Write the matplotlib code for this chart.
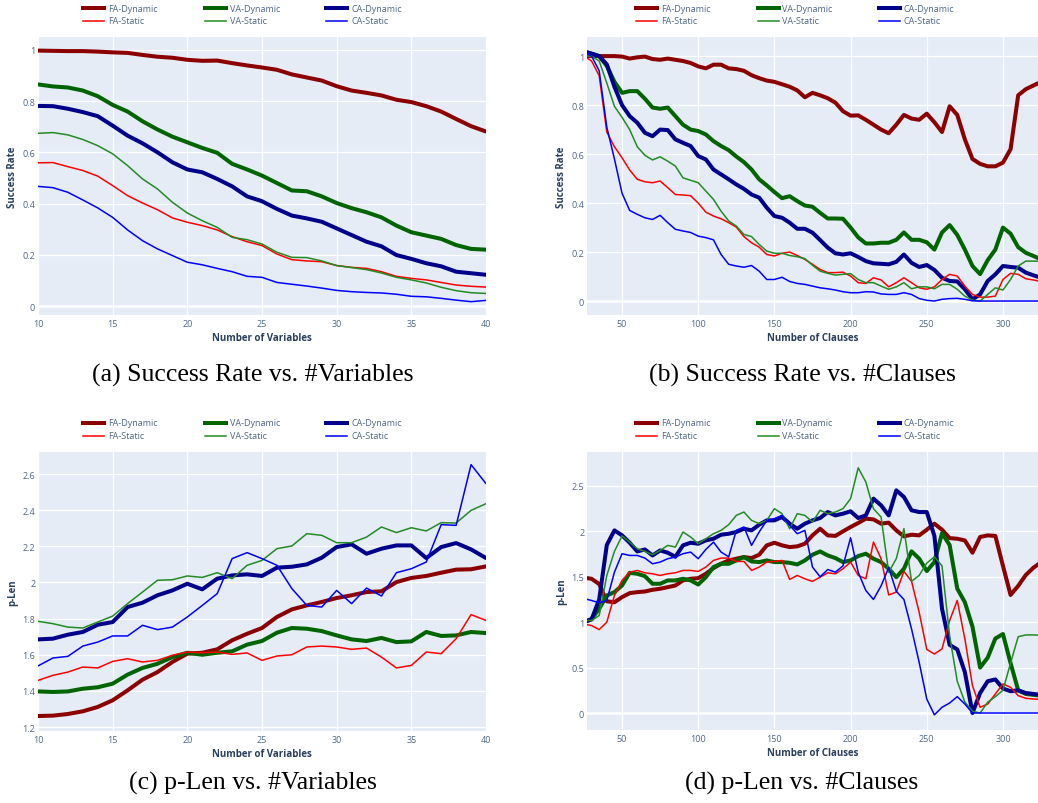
import matplotlib
matplotlib.use('Agg')
import matplotlib.pyplot as plt
from matplotlib.lines import Line2D
from matplotlib.ticker import FuncFormatter

W, H = 1038, 804

names = ['FA-Dynamic', 'VA-Dynamic', 'CA-Dynamic', 'FA-Static', 'VA-Static', 'CA-Static']
colors = ['#8b0000', '#006400', '#00008b', '#ff0000', '#228b22', '#0000ff']
widths = [2.9, 2.9, 2.9, 1.1, 1.1, 1.1]

variables = list(range(10, 41))
clauses = list(range(25, 326, 5))

# (a) success rate vs #variables
sr_var_fa_dyn = [0.997, 0.996, 0.995, 0.995, 0.993, 0.99, 0.988, 0.98, 0.973, 0.969,
                 0.961, 0.957, 0.958, 0.948, 0.939, 0.931, 0.922, 0.904, 0.892, 0.88,
                 0.858, 0.841, 0.832, 0.822, 0.805, 0.796, 0.78, 0.759, 0.73, 0.702, 0.681]
sr_var_va_dyn = [0.865, 0.857, 0.853, 0.841, 0.819, 0.785, 0.759, 0.721, 0.689, 0.661,
                 0.639, 0.617, 0.598, 0.555, 0.533, 0.509, 0.48, 0.451, 0.448, 0.428,
                 0.402, 0.382, 0.366, 0.346, 0.314, 0.288, 0.275, 0.262, 0.238, 0.223, 0.22]
sr_var_ca_dyn = [0.781, 0.78, 0.77, 0.757, 0.741, 0.704, 0.665, 0.635, 0.6, 0.561,
                 0.533, 0.522, 0.496, 0.467, 0.428, 0.409, 0.379, 0.353, 0.342, 0.329,
                 0.303, 0.277, 0.251, 0.233, 0.199, 0.184, 0.167, 0.155, 0.134, 0.128, 0.122]
sr_var_fa_sta = [0.559, 0.56, 0.544, 0.529, 0.507, 0.47, 0.431, 0.402, 0.376, 0.344,
                 0.327, 0.314, 0.297, 0.271, 0.251, 0.236, 0.203, 0.181, 0.176, 0.173,
                 0.158, 0.151, 0.147, 0.134, 0.116, 0.108, 0.102, 0.092, 0.082, 0.077, 0.074]
sr_var_va_sta = [0.674, 0.677, 0.668, 0.65, 0.626, 0.594, 0.548, 0.496, 0.457, 0.405,
                 0.363, 0.333, 0.307, 0.268, 0.259, 0.242, 0.21, 0.19, 0.189, 0.176,
                 0.158, 0.15, 0.142, 0.129, 0.112, 0.102, 0.09, 0.073, 0.06, 0.052, 0.049]
sr_var_ca_sta = [0.467, 0.462, 0.444, 0.414, 0.383, 0.346, 0.297, 0.255, 0.223, 0.197,
                 0.171, 0.161, 0.147, 0.134, 0.116, 0.112, 0.092, 0.085, 0.078, 0.07,
                 0.061, 0.056, 0.053, 0.051, 0.046, 0.038, 0.036, 0.03, 0.023, 0.017, 0.022]

# (b) success rate vs #clauses
sr_cl_fa_dyn = [1.0, 1.0, 1.0, 1.0, 1.0,
                0.998, 0.99, 0.995, 0.998, 0.988, 0.985, 0.99, 0.985, 0.98, 0.972,
                0.958, 0.95, 0.965, 0.965, 0.95, 0.947, 0.94, 0.922, 0.91, 0.90,
                0.895, 0.885, 0.875, 0.86, 0.832, 0.85, 0.84, 0.828, 0.81, 0.775,
                0.757, 0.758, 0.74, 0.72, 0.70, 0.685, 0.72, 0.76, 0.745, 0.74,
                0.765, 0.73, 0.69, 0.795, 0.76, 0.66, 0.58, 0.56, 0.55, 0.55,
                0.565, 0.62, 0.84, 0.865, 0.88, 0.895]
sr_cl_va_dyn = [1.01, 1.01, 1.0, 0.96, 0.895,
                0.85, 0.857, 0.857, 0.826, 0.79, 0.785, 0.79, 0.755, 0.72, 0.70,
                0.694, 0.68, 0.653, 0.633, 0.616, 0.59, 0.567, 0.537, 0.497, 0.472,
                0.445, 0.42, 0.428, 0.408, 0.39, 0.385, 0.36, 0.337, 0.337, 0.336,
                0.30, 0.26, 0.235, 0.235, 0.238, 0.238, 0.25, 0.28, 0.25, 0.25,
                0.24, 0.21, 0.28, 0.31, 0.27, 0.21, 0.143, 0.11, 0.167, 0.21,
                0.30, 0.275, 0.22, 0.197, 0.184, 0.17]
sr_cl_ca_dyn = [1.02, 1.01, 1.0, 0.966, 0.875,
                0.80, 0.755, 0.728, 0.687, 0.673, 0.70, 0.698, 0.66, 0.646, 0.633,
                0.592, 0.578, 0.537, 0.517, 0.497, 0.476, 0.458, 0.435, 0.422, 0.381,
                0.347, 0.34, 0.32, 0.295, 0.295, 0.279, 0.249, 0.218, 0.195, 0.19,
                0.195, 0.18, 0.163, 0.154, 0.152, 0.15, 0.16, 0.19, 0.156, 0.139,
                0.147, 0.127, 0.095, 0.082, 0.08, 0.048, 0.007, 0.027, 0.082, 0.109,
                0.143, 0.139, 0.136, 0.116, 0.105, 0.095]
sr_cl_fa_sta = [1.0, 0.98, 0.92, 0.69, 0.63,
                0.585, 0.535, 0.497, 0.487, 0.483, 0.49, 0.463, 0.435, 0.433, 0.43,
                0.40, 0.363, 0.347, 0.336, 0.32, 0.302, 0.263, 0.238, 0.22, 0.19,
                0.184, 0.195, 0.20, 0.186, 0.17, 0.15, 0.129, 0.116, 0.116, 0.118,
                0.102, 0.075, 0.072, 0.095, 0.086, 0.058, 0.075, 0.095, 0.075, 0.054,
                0.048, 0.058, 0.088, 0.109, 0.102, 0.061, 0.027, 0.016, 0.016, 0.02,
                0.088, 0.113, 0.109, 0.091, 0.086, 0.08]
sr_cl_va_sta = [1.0, 1.0, 0.98, 0.89, 0.795,
                0.75, 0.70, 0.63, 0.595, 0.576, 0.589, 0.571, 0.551, 0.503, 0.493,
                0.483, 0.449, 0.415, 0.367, 0.327, 0.306, 0.272, 0.263, 0.231, 0.204,
                0.195, 0.195, 0.186, 0.181, 0.173, 0.146, 0.122, 0.113, 0.106, 0.109,
                0.112, 0.088, 0.075, 0.075, 0.061, 0.048, 0.058, 0.075, 0.05, 0.058,
                0.058, 0.05, 0.068, 0.068, 0.048, 0.02, 0.004, 0.0, 0.027, 0.054,
                0.045, 0.088, 0.143, 0.163, 0.163, 0.163]
sr_cl_ca_sta = [1.02, 1.0, 0.94, 0.71, 0.58,
                0.44, 0.37, 0.354, 0.34, 0.333, 0.35, 0.32, 0.293, 0.286, 0.28,
                0.265, 0.259, 0.25, 0.19, 0.15, 0.143, 0.138, 0.145, 0.122, 0.088,
                0.088, 0.097, 0.08, 0.072, 0.068, 0.061, 0.054, 0.05, 0.045, 0.038,
                0.034, 0.034, 0.038, 0.037, 0.029, 0.027, 0.027, 0.034, 0.027, 0.01,
                0.003, 0.0, 0.007, 0.01, 0.011, 0.007, 0.001, 0, 0, 0,
                0, 0, 0, 0, 0, 0]

# (c) p-Len vs #variables
pl_var_fa_dyn = [1.261, 1.263, 1.272, 1.287, 1.311, 1.348, 1.403, 1.462, 1.504, 1.56,
                 1.606, 1.611, 1.63, 1.68, 1.716, 1.748, 1.809, 1.851, 1.873, 1.892,
                 1.914, 1.929, 1.947, 1.951, 2.002, 2.025, 2.036, 2.054, 2.071, 2.073, 2.089]
pl_var_va_dyn = [1.397, 1.394, 1.397, 1.412, 1.42, 1.44, 1.49, 1.527, 1.55, 1.587,
                 1.611, 1.6, 1.611, 1.619, 1.656, 1.676, 1.722, 1.748, 1.744, 1.731,
                 1.707, 1.685, 1.676, 1.693, 1.67, 1.674, 1.726, 1.704, 1.707, 1.726, 1.72]
pl_var_ca_dyn = [1.685, 1.689, 1.711, 1.726, 1.766, 1.781, 1.864, 1.888, 1.929, 1.956,
                 1.993, 1.962, 2.021, 2.039, 2.045, 2.036, 2.082, 2.087, 2.1, 2.137,
                 2.196, 2.211, 2.159, 2.187, 2.205, 2.205, 2.135, 2.196, 2.218, 2.183, 2.135]
pl_var_fa_sta = [1.458, 1.486, 1.504, 1.532, 1.527, 1.563, 1.578, 1.56, 1.569, 1.597,
                 1.615, 1.611, 1.615, 1.602, 1.61, 1.569, 1.593, 1.6, 1.643, 1.648,
                 1.643, 1.63, 1.637, 1.587, 1.527, 1.541, 1.615, 1.606, 1.689, 1.822, 1.79]
pl_var_va_sta = [1.785, 1.772, 1.753, 1.748, 1.781, 1.814, 1.883, 1.947, 2.012, 2.015,
                 2.036, 2.028, 2.054, 2.021, 2.095, 2.122, 2.187, 2.202, 2.27, 2.261,
                 2.22, 2.22, 2.251, 2.307, 2.276, 2.303, 2.285, 2.331, 2.329, 2.399, 2.436]
pl_var_ca_sta = [1.538, 1.582, 1.591, 1.648, 1.67, 1.704, 1.704, 1.763, 1.739, 1.753,
                 1.809, 1.873, 1.938, 2.132, 2.165, 2.132, 2.095, 1.966, 1.873, 1.864,
                 1.956, 1.883, 1.969, 1.925, 2.054, 2.076, 2.113, 2.32, 2.316, 2.652, 2.547]

# (d) p-Len vs #clauses
pl_cl_fa_dyn = [1.49, 1.478, 1.42, 1.23, 1.22,
                1.276, 1.32, 1.331, 1.338, 1.357, 1.368, 1.386, 1.404, 1.46, 1.478,
                1.485, 1.533, 1.596, 1.643, 1.68, 1.699, 1.717, 1.706, 1.743, 1.846,
                1.875, 1.846, 1.827, 1.835, 1.864, 1.956, 2.029, 1.956, 1.95, 2.0,
                2.048, 2.092, 2.14, 2.132, 2.085, 2.096, 2.011, 1.945, 1.963, 1.956,
                2.018, 2.085, 2.018, 1.926, 1.919, 1.90, 1.765, 1.938, 1.956, 1.95,
                1.62, 1.30, 1.40, 1.52, 1.60, 1.66]
pl_cl_va_dyn = [1.0, 1.037, 1.147, 1.294, 1.331,
                1.404, 1.544, 1.533, 1.507, 1.423, 1.423, 1.46, 1.46, 1.478, 1.46,
                1.415, 1.496, 1.607, 1.643, 1.643, 1.68, 1.717, 1.669, 1.662, 1.68,
                1.662, 1.662, 1.654, 1.636, 1.68, 1.743, 1.779, 1.735, 1.706, 1.662,
                1.68, 1.728, 1.754, 1.699, 1.662, 1.588, 1.496, 1.588, 1.78, 1.70,
                1.563, 1.662, 1.98, 1.85, 1.37, 1.22, 0.95, 0.50, 0.61, 0.82,
                0.87, 0.55, 0.25, 0.21, 0.20, 0.19]
pl_cl_ca_dyn = [1.0, 1.03, 1.25, 1.85, 2.011,
                1.956, 1.875, 1.779, 1.801, 1.735, 1.79, 1.765, 1.72, 1.846, 1.875,
                1.864, 1.901, 1.919, 1.963, 1.974, 1.993, 2.029, 2.011, 2.074, 2.121,
                2.121, 2.158, 2.085, 2.029, 2.085, 2.121, 2.147, 2.213, 2.176, 2.195,
                2.221, 2.147, 2.176, 2.36, 2.287, 2.176, 2.452, 2.379, 2.232, 2.213,
                2.213, 1.95, 1.15, 0.75, 0.70, 0.45, 0.0, 0.22, 0.35, 0.37,
                0.27, 0.24, 0.25, 0.22, 0.21, 0.20]
pl_cl_fa_sta = [0.98, 0.963, 0.919, 1.0, 1.294,
                1.46, 1.551, 1.57, 1.544, 1.533, 1.515, 1.533, 1.544, 1.57, 1.57,
                1.559, 1.607, 1.68, 1.706, 1.706, 1.669, 1.669, 1.57, 1.607, 1.662,
                1.669, 1.68, 1.471, 1.515, 1.478, 1.449, 1.496, 1.544, 1.533, 1.588,
                1.662, 1.515, 1.478, 1.882, 1.70, 1.30, 1.331, 1.56, 1.45, 1.11,
                0.70, 0.65, 0.706, 1.018, 1.239, 0.816, 0.301, 0.063, 0.099, 0.21,
                0.32, 0.283, 0.191, 0.162, 0.154, 0.15]
pl_cl_va_sta = [1.02, 1.018, 1.074, 1.515, 1.78,
                1.95, 1.882, 1.809, 1.779, 1.743, 1.79, 1.846, 1.827, 1.993, 1.938,
                1.864, 1.919, 1.974, 2.011, 2.074, 2.176, 2.213, 2.121, 2.085, 2.121,
                2.25, 2.195, 2.029, 2.195, 2.176, 2.103, 2.232, 2.195, 2.213, 2.25,
                2.36, 2.70, 2.544, 2.25, 2.158, 1.55, 1.70, 2.03, 1.45, 1.515,
                1.65, 1.72, 1.62, 0.85, 0.35, 0.12, 0.02, 0.0, 0.12, 0.18,
                0.25, 0.55, 0.84, 0.86, 0.86, 0.855]
pl_cl_ca_sta = [1.26, 1.239, 1.213, 1.239, 1.551,
                1.754, 1.735, 1.735, 1.706, 1.643, 1.662, 1.699, 1.717, 1.754, 1.772,
                1.699, 1.801, 1.882, 1.772, 1.72, 2.011, 2.048, 1.846, 1.993, 2.121,
                2.14, 2.176, 2.066, 1.974, 2.011, 1.607, 1.50, 1.58, 1.551, 1.62,
                1.93, 1.55, 1.349, 1.25, 1.40, 1.60, 1.34, 1.25, 0.926, 0.559,
                0.154, -0.02, 0.063, 0.11, 0.18, 0.099, 0.0, 0, 0, 0,
                0, 0, 0, 0, 0, 0]

FONT = 'Open Sans'
TXT = '#2a3f5f'
TICK = '#506784'
BG = '#e5ecf6'

fig = plt.figure(figsize=(W / 100, H / 100), dpi=100)


def fx(x):
    return x / W


def fy(y):
    return 1 - y / H


def panel(box, x, ys, xlim, ylim, xticks, yticks, xlabel, ylabel, zero=False):
    l, t, r, b = box
    ax = fig.add_axes([fx(l), fy(b), fx(r - l), (b - t) / H])
    ax.set_facecolor(BG)
    for s in ax.spines.values():
        s.set_visible(False)
    ax.set_xlim(*xlim)
    ax.set_ylim(*ylim)
    ax.set_xticks(xticks)
    ax.set_yticks(yticks)
    ax.grid(True, color='white', linewidth=0.9)
    ax.set_axisbelow(True)
    if zero:
        ax.axhline(0, color='white', linewidth=1.8, zorder=1)
    fmt = FuncFormatter(lambda v, p: '{:g}'.format(round(v, 2)))
    ax.xaxis.set_major_formatter(fmt)
    ax.yaxis.set_major_formatter(fmt)
    ax.tick_params(length=0, labelsize=6.5, labelcolor=TICK, pad=3)
    ax.tick_params(axis='y', pad=2)
    for lab in ax.get_xticklabels() + ax.get_yticklabels():
        lab.set_fontfamily(FONT)
    for y, c, w in zip(ys, colors, widths):
        ax.plot(x, y, color=c, linewidth=w, solid_joinstyle='round',
                solid_capstyle='round', zorder=3)
    fig.text(fx((l + r) / 2), fy(b + 23), xlabel, ha='center', va='center',
             fontsize=7, fontweight='bold', color=TXT, family=FONT)
    fig.text(fx(l - 25), fy((t + b) / 2), ylabel, ha='center', va='center',
             rotation=90, fontsize=7, fontweight='bold', color=TXT, family=FONT)
    return ax


def legend(x0, y0):
    for i, (n, c, w) in enumerate(zip(names, colors, widths)):
        col, row = i % 3, i // 3
        lx = x0 + col * 121.5
        ly = y0 + row * 13
        fig.add_artist(Line2D([fx(lx), fx(lx + 21)], [fy(ly), fy(ly)],
                              color=c, linewidth=w, transform=fig.transFigure))
        fig.text(fx(lx + 25), fy(ly), n, ha='left', va='center', fontsize=6.5,
                 color=TICK, family=FONT)


def caption(cx, cy, s):
    fig.text(fx(cx), fy(cy), s, ha='center', va='center', fontsize=18.5,
             family='Liberation Serif', color='black')


panel((38, 38, 486, 316), variables,
      [sr_var_fa_dyn, sr_var_va_dyn, sr_var_ca_dyn, sr_var_fa_sta, sr_var_va_sta, sr_var_ca_sta],
      (10, 40), (-0.035, 1.05), range(10, 41, 5), [0, 0.2, 0.4, 0.6, 0.8, 1],
      'Number of Variables', 'Success Rate', zero=True)
panel((587, 38, 1038, 316), clauses,
      [sr_cl_fa_dyn, sr_cl_va_dyn, sr_cl_ca_dyn, sr_cl_fa_sta, sr_cl_va_sta, sr_cl_ca_sta],
      (27, 323), (-0.057, 1.078), range(50, 301, 50), [0, 0.2, 0.4, 0.6, 0.8, 1],
      'Number of Clauses', 'Success Rate', zero=True)
panel((38, 453, 486, 732), variables,
      [pl_var_fa_dyn, pl_var_va_dyn, pl_var_ca_dyn, pl_var_fa_sta, pl_var_va_sta, pl_var_ca_sta],
      (10, 40), (1.178, 2.722), range(10, 41, 5), [1.2, 1.4, 1.6, 1.8, 2, 2.2, 2.4, 2.6],
      'Number of Variables', 'p-Len')
panel((587, 453, 1038, 731), clauses,
      [pl_cl_fa_dyn, pl_cl_va_dyn, pl_cl_ca_dyn, pl_cl_fa_sta, pl_cl_va_sta, pl_cl_ca_sta],
      (27, 323), (-0.187, 2.874), range(50, 301, 50), [0, 0.5, 1, 1.5, 2, 2.5],
      'Number of Clauses', 'p-Len', zero=True)

legend(83, 9)
legend(636, 9)
legend(83, 424)
legend(636, 424)

caption(253, 375, '(a) Success Rate vs. #Variables')
caption(802, 375, '(b) Success Rate vs. #Clauses')
caption(253, 783, '(c) p-Len vs. #Variables')
caption(802, 783, '(d) p-Len vs. #Clauses')

fig.savefig('out.png', dpi=100)
